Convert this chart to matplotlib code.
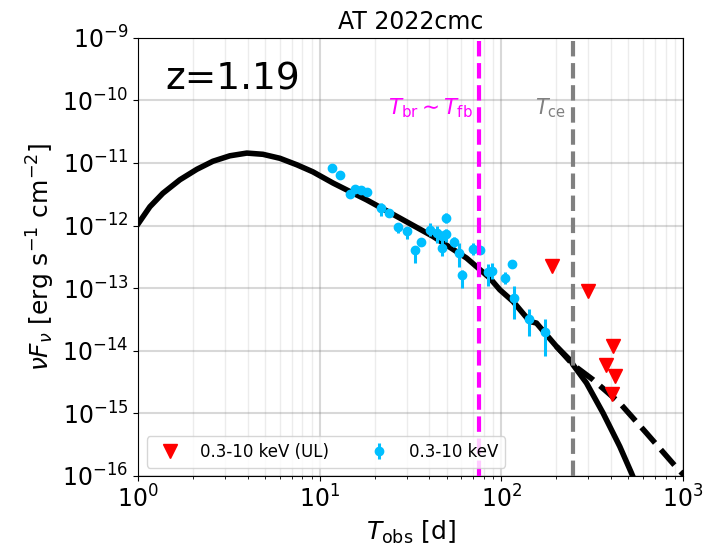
import matplotlib.pyplot as plt
import numpy as np
from matplotlib.ticker import NullLocator

# X-ray 0.3-10 keV detections (time in days, flux and error bounds)
t_xrt = [11.6, 12.93, 14.63, 15.58, 16.75, 18.07, 21.66, 23.88, 26.97, 30.12,
         33.33, 36.1, 40.2, 43.9, 46.8, 49.2, 49.8, 46.9, 54.8, 58.2,
         60.8, 70.1, 75.9, 84.4, 88.4, 104.9, 114.9, 116.9, 141.3, 173.8]
f_xrt = [8.29e-12, 6.41e-12, 3.22e-12, 3.87e-12, 3.77e-12, 3.47e-12, 1.88e-12, 1.60e-12, 9.57e-13, 8.17e-13,
         4.0e-13, 5.45e-13, 8.35e-13, 7.59e-13, 6.87e-13, 7.21e-13, 1.30e-12, 4.42e-13, 5.51e-13, 3.64e-13,
         1.62e-13, 4.26e-13, 4.1e-13, 1.83e-13, 1.88e-13, 1.43e-13, 2.45e-13, 6.85e-14, 3.21e-14, 2.03e-14]
f_xrt_lo = [8.29e-12, 6.41e-12, 2.88e-12, 3.87e-12, 3.77e-12, 3.47e-12, 1.40e-12, 1.49e-12, 7.67e-13, 6.16e-13,
            2.52e-13, 5.07e-13, 6.70e-13, 5.26e-13, 5.12e-13, 5.37e-13, 1.11e-12, 3.21e-13, 4.58e-13, 2.17e-13,
            1.0e-13, 3.42e-13, 3.81e-13, 1.09e-13, 1.40e-13, 1.15e-13, 2.45e-13, 3.16e-14, 1.72e-14, 8.1e-15]
f_xrt_hi = [8.29e-12, 6.41e-12, 3.60e-12, 3.87e-12, 3.77e-12, 3.47e-12, 2.32e-12, 1.72e-12, 1.11e-12, 9.58e-13,
            4.64e-13, 5.86e-13, 1.08e-12, 9.68e-13, 8.26e-13, 8.67e-13, 1.60e-12, 5.31e-13, 6.62e-13, 5.26e-13,
            1.95e-13, 5.31e-13, 4.41e-13, 2.46e-13, 2.52e-13, 1.78e-13, 2.45e-13, 1.09e-13, 4.63e-14, 3.27e-14]

# upper limits
t_ul = [189.9, 301, 413, 378, 419, 405]
f_ul = [2.28e-13, 9.09e-14, 1.17e-14, 5.97e-15, 3.99e-15, 2.03e-15]

# model curve
t_model = [1.0, 1.16, 1.367, 1.696, 2.104, 2.577, 3.197, 3.965, 4.857, 6.026,
           7.47, 9.15, 11.84, 18.07, 27.55, 42.03, 64.2, 86.2, 97.9, 115.8,
           143.2, 155.8, 200.8, 242.7, 247.8, 293.7, 362.4, 447.8, 519.5, 600.0]
f_model = [1.07e-12, 2.0e-12, 3.28e-12, 5.39e-12, 7.93e-12, 1.065e-11, 1.303e-11, 1.44e-11, 1.377e-11, 1.189e-11,
           9.36e-12, 7.23e-12, 4.77e-12, 2.58e-12, 1.32e-12, 6.70e-13, 3.03e-13, 1.45e-13, 9.43e-14, 6.13e-14,
           2.94e-14, 2.77e-14, 1.17e-14, 6.75e-15, 5.97e-15, 3.05e-15, 1.01e-15, 2.96e-16, 1.11e-16, 4.0e-17]

# model without the cutoff
t_pl = [200.8, 247.8, 319.3, 447.8, 628.0, 922.0, 1100.0]
f_pl = [1.17e-14, 5.97e-15, 3.44e-15, 1.46e-15, 4.84e-16, 1.35e-16, 8.0e-17]

t_br = 75.3
t_ce = 247.8

fig, ax = plt.subplots(figsize=(7.05, 5.56), dpi=100)
fig.subplots_adjust(left=0.196, right=0.969, top=0.932, bottom=0.144)

ax.plot(t_pl, f_pl, color="black", lw=4, ls="--", zorder=2)
ax.plot(t_model, f_model, color="black", lw=4, zorder=3)

ul = ax.plot(t_ul, f_ul, "v", color="red", ms=9.5, ls="none",
             label="0.3-10 keV (UL)", zorder=4)[0]

f_xrt = np.array(f_xrt)
yerr = [f_xrt - np.array(f_xrt_lo), np.array(f_xrt_hi) - f_xrt]
det = ax.errorbar(t_xrt, f_xrt, yerr=yerr, fmt="o", color="deepskyblue",
                  ms=6, elinewidth=2.2, capsize=0, label="0.3-10 keV", zorder=4)

ax.axvline(t_br, color="magenta", lw=3, ls="--", zorder=5)
ax.axvline(t_ce, color="gray", lw=3, ls="--", zorder=5)

ax.text(70, 7.6e-11, r"$T_{\rm br}\sim T_{\rm fb}$", color="magenta",
        fontsize=15.5, ha="right", va="center")
ax.text(228, 7.6e-11, r"$T_{\rm ce}$", color="gray",
        fontsize=15, ha="right", va="center")
ax.text(0.05, 0.945, "z=1.19", transform=ax.transAxes, fontsize=27,
        ha="left", va="top")

ax.set_xscale("log")
ax.set_yscale("log")
ax.set_xlim(1, 1000)
ax.set_ylim(1e-16, 1e-9)
ax.yaxis.set_minor_locator(NullLocator())

ax.grid(True, which="major", color="gray", alpha=0.3, lw=1.5)
ax.grid(True, which="minor", color="gray", alpha=0.15, lw=1.0)

ax.tick_params(axis="both", which="major", labelsize=17)
ax.set_xlabel(r"$T_{\rm obs}$ [d]", fontsize=18)
ax.set_ylabel(r"$\nu F_{\nu}$ [erg s$^{-1}$ cm$^{-2}$]", fontsize=18)
ax.set_title("AT 2022cmc", fontsize=17)

ax.legend(handles=[ul, det], loc="lower left", ncol=2, fontsize=12)

plt.savefig("out.png", dpi=100)
